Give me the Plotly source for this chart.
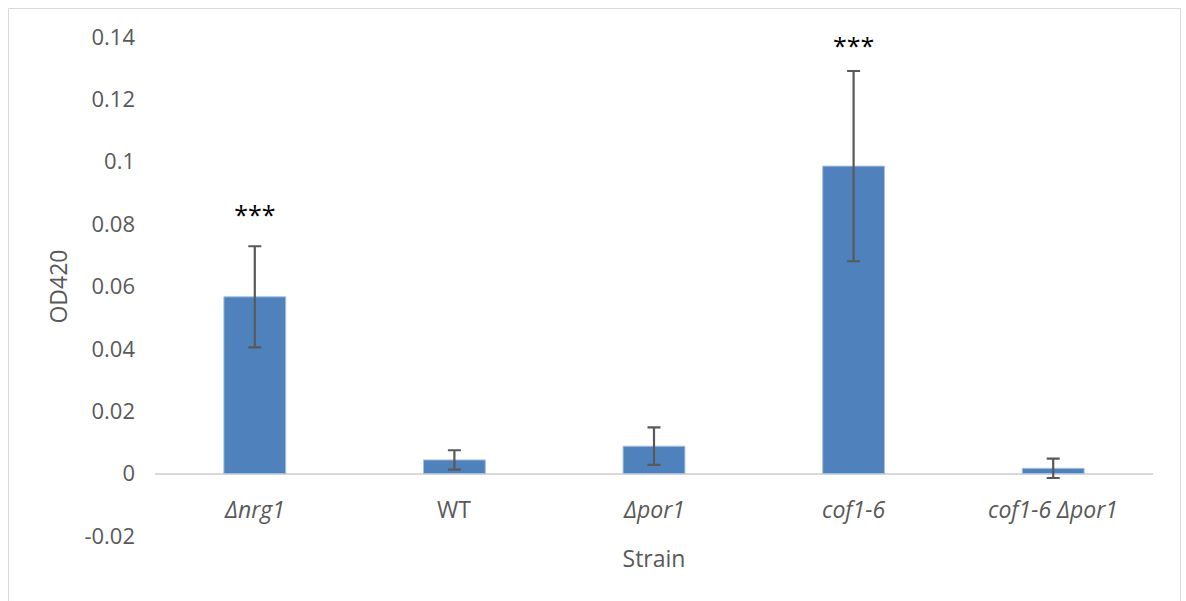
import plotly.graph_objects as go

strains = ["Δnrg1", "WT", "Δpor1", "cof1-6", "cof1-6 Δpor1"]
strain_labels = ["<i>Δnrg1</i>", "WT", "<i>Δpor1</i>", "<i>cof1-6</i>", "<i>cof1-6 Δpor1</i>"]
od420 = [0.0567, 0.0044, 0.0088, 0.0986, 0.0017]
err = [0.0162, 0.0031, 0.0060, 0.0305, 0.0031]
sig_strains = ["Δnrg1", "cof1-6"]
sig_y = [0.0821, 0.1362]
sig_text = ["***", "***"]
y_ticks = [-0.02, 0, 0.02, 0.04, 0.06, 0.08, 0.1, 0.12, 0.14]
y_tick_text = ["-0.02", "0", "0.02", "0.04", "0.06", "0.08", "0.1", "0.12", "0.14"]

FONT = "Open Sans"
GRAY = "#595959"

fig = go.Figure()
fig.add_trace(go.Bar(
    x=strains, y=od420,
    marker=dict(color="#4f81bd", line=dict(color="#a9c2e0", width=1)),
    width=0.31,
    error_y=dict(type="data", array=err, visible=True, color=GRAY, thickness=2.2, width=6.5),
    showlegend=False,
))
fig.add_trace(go.Scatter(
    x=sig_strains, y=sig_y, mode="text", text=sig_text,
    textfont=dict(family=FONT, size=25, color="#000000"),
    showlegend=False, hoverinfo="skip",
))

# category labels sit just below the zero line (Excel-style axis crossing at 0)
for s, lab in zip(strains, strain_labels):
    fig.add_annotation(x=s, y=0, xref="x", yref="y", text=lab, showarrow=False,
                       yanchor="top", yshift=-17,
                       font=dict(family=FONT, size=23, color=GRAY))

W, H = 1186, 601
ml, mr, mt, mb = 155, 33, 37, 65
pw, ph = W - ml - mr, H - mt - mb

def px_to_paper_x(px):
    return (px - ml) / pw

def py_to_paper_y(py):
    return (H - mb - py) / ph

fig.add_shape(type="rect", xref="paper", yref="paper",
              x0=px_to_paper_x(8.5), x1=px_to_paper_x(1180.5),
              y0=py_to_paper_y(610), y1=py_to_paper_y(8.5),
              line=dict(color="#d9d9d9", width=1), layer="below")

fig.update_layout(
    width=W, height=H,
    margin=dict(l=ml, r=mr, t=mt, b=mb),
    paper_bgcolor="white", plot_bgcolor="white",
    font=dict(family=FONT, color=GRAY),
    xaxis=dict(
        showgrid=False, showline=False, ticks="", showticklabels=False,
        title=dict(text="Strain", font=dict(size=23, color=GRAY), standoff=14),
    ),
    yaxis=dict(
        range=[-0.02, 0.14], tickvals=y_ticks, ticktext=y_tick_text,
        showgrid=False, showline=False, ticks="", ticklabelstandoff=19,
        zeroline=True, zerolinecolor="#d9d9d9", zerolinewidth=1.5,
        tickfont=dict(size=22, color=GRAY),
        title=dict(text="OD420", font=dict(size=23, color=GRAY), standoff=10),
    ),
)

fig.write_html("out.html")
